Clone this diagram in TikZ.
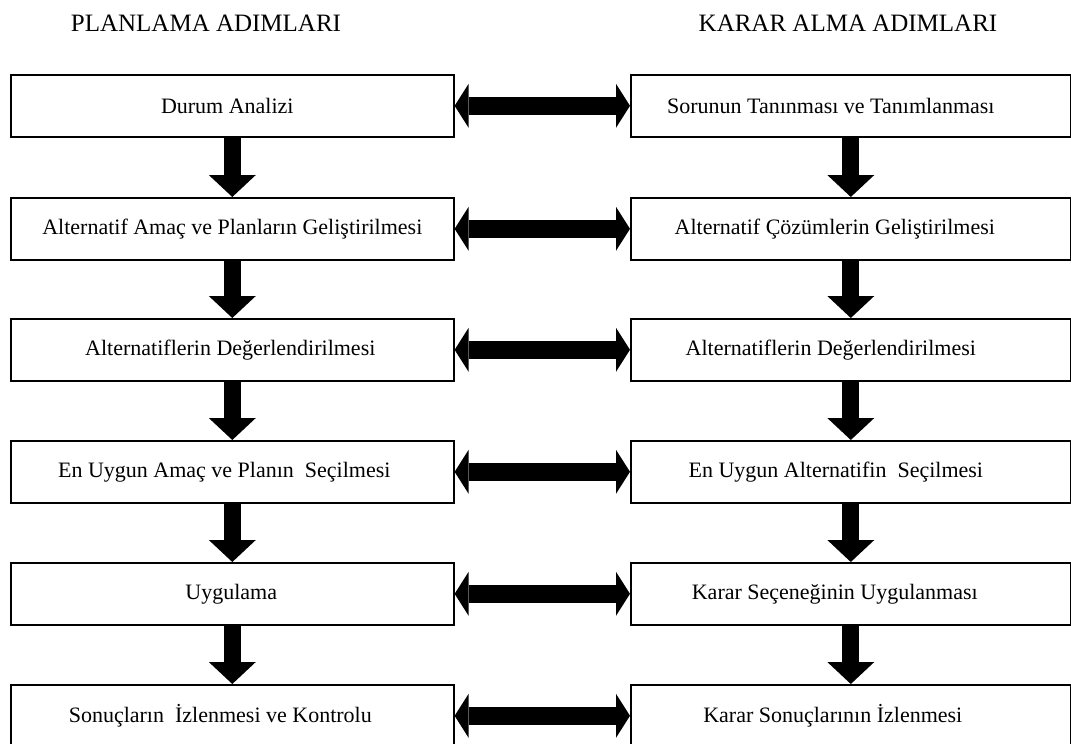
\documentclass[tikz,border=0pt]{standalone}
\usepackage{fontspec}
\setmainfont{Liberation Serif}
\usetikzlibrary{arrows.meta}
\begin{document}
\begin{tikzpicture}[x=1pt,y=-1pt,
  lbox/.style={draw, line width=1.6pt, minimum width=443pt, minimum height=62pt,
    inner sep=0pt, anchor=north west},
  rbox/.style={lbox, minimum width=440pt},
  txt/.style={font=\fontsize{22}{26}\selectfont},
  title/.style={font=\fontsize{25}{30}\selectfont},
  down/.style={line width=17pt,
    -{Triangle[length=22pt,width=47pt,line width=0pt]}},
  link/.style={line width=18pt,
    {Triangle[length=14pt,width=44pt,line width=0pt]}-{Triangle[length=14pt,width=44pt,line width=0pt]}}
]
\useasboundingbox (0,0) rectangle (1071,744);

\node[title] (t1) at (206,23) {PLANLAMA ADIMLARI};
\node[title] (t2) at (848,23) {KARAR ALMA ADIMLARI};

% planning steps (left column)
\node[lbox, label={[txt,xshift=-5pt]center:Durum Analizi}] (p1) at (10,74) {};
\node[lbox, label={[txt,xshift=0pt]center:Alternatif Amaç ve Planların Geliştirilmesi}] (p2) at (10,197) {};
\node[lbox, label={[txt,xshift=-2pt]center:Alternatiflerin Değerlendirilmesi}] (p3) at (10,318) {};
\node[lbox, label={[txt,xshift=-8pt]center:En Uygun Amaç ve Planın\ \ Seçilmesi}] (p4) at (10,440) {};
\node[lbox, label={[txt,xshift=-1pt]center:Uygulama}] (p5) at (10,562) {};
\node[lbox, label={[txt,xshift=-12pt]center:Sonuçların\ \ İzlenmesi ve Kontrolu}] (p6) at (10,684) {};

% decision steps (right column)
\node[rbox, label={[txt,xshift=-20pt]center:Sorunun Tanınması ve Tanımlanması}] (k1) at (630,74) {};
\node[rbox, label={[txt,xshift=-16pt]center:Alternatif Çözümlerin Geliştirilmesi}] (k2) at (630,197) {};
\node[rbox, label={[txt,xshift=-20pt]center:Alternatiflerin Değerlendirilmesi}] (k3) at (630,318) {};
\node[rbox, label={[txt,xshift=-15pt]center:En Uygun Alternatifin\ \ Seçilmesi}] (k4) at (630,440) {};
\node[rbox, label={[txt,xshift=-16pt]center:Karar Seçeneğinin Uygulanması}] (k5) at (630,562) {};
\node[rbox, label={[txt,xshift=-18pt]center:Karar Sonuçlarının İzlenmesi}] (k6) at (630,684) {};

% downward flow
\foreach \a/\b in {p1/p2,p2/p3,p3/p4,p4/p5,p5/p6,k1/k2,k2/k3,k3/k4,k4/k5,k5/k6}
  \draw[down] (\a.south) -- (\b.north);

% correspondences between the two columns
\foreach \i in {1,...,6}
  \draw[link] (p\i.east) -- (k\i.west);
\end{tikzpicture}
\end{document}
